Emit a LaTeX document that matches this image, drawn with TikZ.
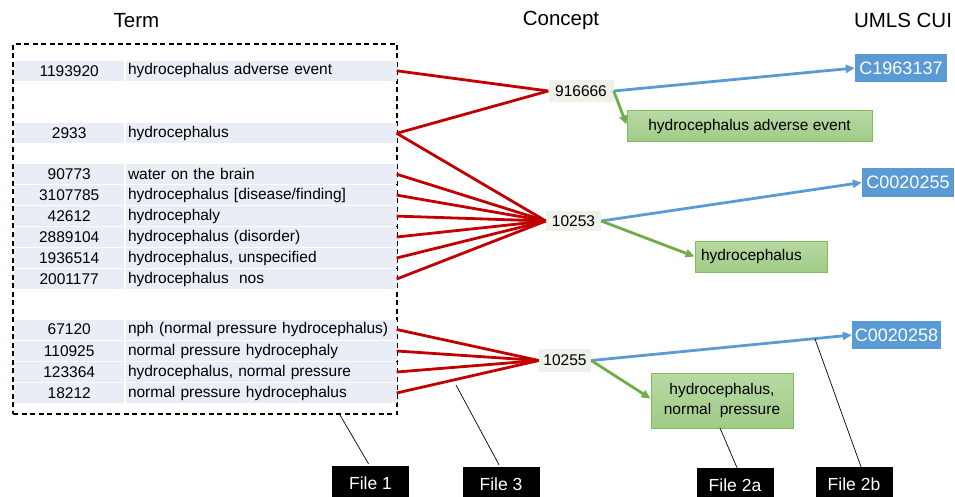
\documentclass[tikz,border=0pt]{standalone}
\usepackage{fontspec}
\setmainfont{Liberation Sans}
\usetikzlibrary{arrows.meta,calc}
\definecolor{rowbg}{HTML}{E9EDF6}
\definecolor{conbg}{HTML}{EDF1EA}
\definecolor{redl}{HTML}{C00000}
\definecolor{bluel}{HTML}{5B9BD5}
\definecolor{greenl}{HTML}{70AD47}
\definecolor{greentop}{HTML}{B7D9A3}
\definecolor{greenbot}{HTML}{A0CB86}
\definecolor{greenbd}{HTML}{82BC5E}
\tikzset{
  main/.style={font=\fontsize{15.5}{19}\selectfont},
  numcell/.style={main, fill=rowbg, minimum width=110.5pt, minimum height=20pt, inner sep=0pt},
  txtcell/.style={main, fill=rowbg, anchor=west, minimum height=20pt, inner xsep=2pt, inner ysep=0pt, text width=266.5pt, align=left},
  concept/.style={main, fill=conbg, inner sep=0pt},
  cui/.style={fill=bluel, text=white, font=\fontsize{18}{21}\selectfont, inner sep=0pt},
  gbox/.style={main, top color=greentop, bottom color=greenbot, draw=greenbd, line width=1pt, inner sep=0pt, align=center},
  filebox/.style={fill=black, text=white, font=\fontsize{17.5}{20}\selectfont, minimum width=77pt, minimum height=34pt, inner sep=0pt},
  title/.style={font=\fontsize{20.5}{24}\selectfont},
  redline/.style={draw=redl, line width=2.8pt},
  bluearr/.style={draw=bluel, line width=2.8pt, -{Triangle[length=9pt,width=8pt]}},
  greenarr/.style={draw=greenl, line width=2.8pt, -{Triangle[length=9pt,width=8pt]}},
  pointer/.style={draw=black, line width=0.7pt}
}
\begin{document}
\begin{tikzpicture}[x=1pt,y=-1pt]
\useasboundingbox (0,0) rectangle (955,497);
% titles
\node[title] (tterm) at (136.5,20.5) {Term};
\node[title] (tcon) at (561,20.5) {Concept};
\node[title] (tcui) at (903,20.5) {UMLS CUI};
% dashed term box
\node[draw, dashed, line width=1.1pt, dash pattern=on 5pt off 3.5pt, minimum width=384pt, minimum height=370pt, inner sep=0pt] (termbox) at (205,229) {};
% rows
\foreach \id/\y/\num/\txt in {
  r1/70.8/1193920/hydrocephalus adverse event,
  r2/133.3/2933/hydrocephalus,
  g1/174.2/90773/water on the brain,
  g2/195.1/3107785/{hydrocephalus [disease/finding]},
  g3/216.1/42612/hydrocephaly,
  g4/237/2889104/hydrocephalus (disorder),
  g5/258/1936514/{hydrocephalus, unspecified},
  g6/279/2001177/hydrocephalus\ \ nos,
  h1/329.5/67120/nph (normal pressure hydrocephalus),
  h2/351/110925/normal pressure hydrocephaly,
  h3/372/123364/{hydrocephalus, normal pressure},
  h4/393/18212/normal pressure hydrocephalus}{
  \node[numcell] (n\id) at (69.2,\y) {\num};
  \node[txtcell] (t\id) at (125.8,\y) {\txt};
}
% concepts
\node[concept, minimum width=65pt, minimum height=22pt] (c1) at (581,91) {916666};
\node[concept, minimum width=55pt, minimum height=20pt] (c2) at (573.5,221) {10253};
\node[concept, minimum width=52pt, minimum height=23pt] (c3) at (565,360.5) {10255};
% CUIs
\node[cui, minimum width=92pt, minimum height=28pt] (u1) at (901,68) {C1963137};
\node[cui, minimum width=92pt, minimum height=29pt] (u2) at (908,182.5) {C0020255};
\node[cui, minimum width=89pt, minimum height=28pt] (u3) at (896.5,335) {C0020258};
% green boxes
\node[gbox, minimum width=245pt, minimum height=31pt] (e1) at (749.5,126.5) {hydrocephalus adverse event};
\node[gbox, minimum width=132pt, minimum height=31pt, text width=120pt, align=left] (e2) at (761,256.5) {hydrocephalus};
\node[gbox, minimum width=142pt, minimum height=55pt, font=\fontsize{15.5}{20}\selectfont] (e3) at (722,400.5) {hydrocephalus,\\normal\ \ pressure};
% red connectors
\foreach \r in {r1,r2}{\draw[redline] (t\r.east) -- (c1.west);}
\foreach \r in {r2,g1,g2,g3,g4,g5,g6}{\draw[redline] (t\r.east) -- (c2.west);}
\foreach \r in {h1,h2,h3,h4}{\draw[redline] (t\r.east) -- (c3.west);}
% blue arrows
\draw[bluearr] (c1.east) -- (u1.west);
\draw[bluearr] (c2.east) -- (u2.west);
\draw[bluearr] (c3.east) -- (u3.west);
% green arrows
\draw[greenarr] (c1.east) -- ($(e1.west)+(0,-2)$);
\draw[greenarr] (c2.east) -- (e2.west);
\draw[greenarr] (c3.east) -- ($(e3.west)+(0,-2)$);
% file labels
\node[filebox] (f1) at (370.5,483) {File 1};
\node[filebox] (f3) at (501,484) {File 3};
\node[filebox] (f2a) at (735,485) {File 2a};
\node[filebox] (f2b) at (854,484) {File 2b};
% pointers
\coordinate (p1) at (340,415);
\coordinate (p3) at (456,385);
\coordinate (p2a) at (720,428);
\coordinate (p2b) at (815,339);
\draw[pointer] (p1) -- ($(f1.north)+(-2,-2)$);
\draw[pointer] (p3) -- ($(f3.north)+(-2,-2)$);
\draw[pointer] (p2a) -- ($(f2a.north)+(2,0)$);
\draw[pointer] (p2b) -- ($(f2b.north)+(7,0)$);
\end{tikzpicture}
\end{document}
